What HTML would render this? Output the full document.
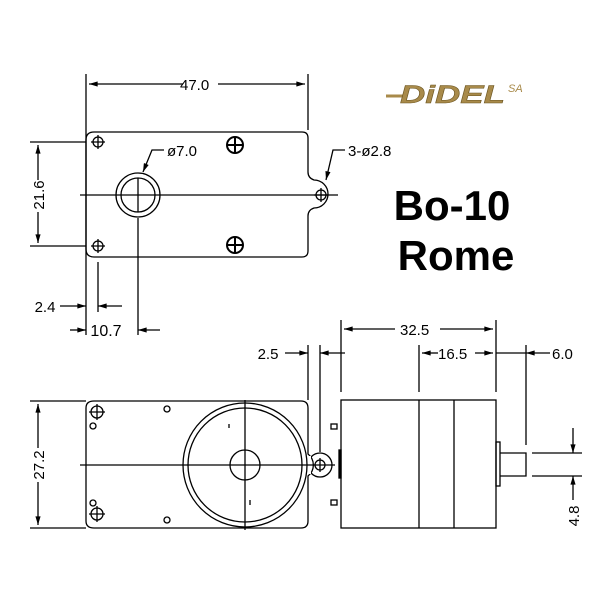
<!DOCTYPE html>
<html><head><style>
body{margin:0;background:#fff}
svg{display:block}
text{font-family:"Liberation Sans",sans-serif}
</style></head><body>
<svg width="610" height="610" viewBox="0 0 610 610" xmlns="http://www.w3.org/2000/svg">
<defs>
<marker id="a" viewBox="0 0 10 6" refX="10" refY="3" markerWidth="10" markerHeight="4" orient="auto-start-reverse"><path d="M0,0L10,3L0,6z" fill="#000"/></marker>
</defs>
<g stroke="#000" stroke-width="1.3" fill="none">
<path d="M94,132H302Q308,132 308,138V172Q308,178 314,180A10,10 0 0 1 314,208Q308,210 308,216V251Q308,257 302,257H94Q86,257 86,249V140Q86,132 94,132Z"/>
<line x1="80" y1="195" x2="338" y2="195"/>
<circle cx="138" cy="195" r="22"/><circle cx="138" cy="195" r="17"/>
<line x1="138" y1="178" x2="138" y2="212"/>
<circle cx="98" cy="142" r="5"/><path d="M98,135V149M91,142H105"/>
<circle cx="98" cy="246" r="5"/><path d="M98,239V253M91,246H105"/>
<circle cx="321" cy="195" r="5"/><path d="M321,188V202M314,195H328"/>
<circle cx="235" cy="145" r="8" stroke-width="2"/><path d="M235,137V153M227,145H243" stroke-width="2"/>
<circle cx="235" cy="245" r="8" stroke-width="2"/><path d="M235,237V253M227,245H243" stroke-width="2"/>
<line x1="86" y1="74" x2="86" y2="335"/><line x1="308" y1="74" x2="308" y2="130"/>
<line x1="89" y1="84" x2="183" y2="84" marker-start="url(#a)"/><line x1="218" y1="84" x2="305" y2="84" marker-end="url(#a)"/>
<line x1="30" y1="142" x2="86" y2="142"/><line x1="30" y1="246" x2="86" y2="246"/>
<line x1="38" y1="145" x2="38" y2="180" marker-start="url(#a)"/><line x1="38" y1="212" x2="38" y2="243" marker-end="url(#a)"/>
<line x1="98" y1="262" x2="98" y2="312"/>
<line x1="60" y1="306" x2="86" y2="306" marker-end="url(#a)"/><line x1="122" y1="306" x2="98" y2="306" marker-end="url(#a)"/>
<line x1="138" y1="218" x2="138" y2="335"/>
<line x1="70" y1="330" x2="86" y2="330" marker-end="url(#a)"/><line x1="160" y1="330" x2="138" y2="330" marker-end="url(#a)"/>
<path d="M164,150H152L143,172" marker-end="url(#a)"/>
<path d="M345,150H333L326,180" marker-end="url(#a)"/>
<path d="M94,401H301Q308,401 308,408V454A14,14 0 0 1 308,476V521Q308,528 301,528H94Q86,528 86,521V408Q86,401 94,401Z"/>
<circle cx="320" cy="465" r="12"/>
<rect x="306" y="456" width="5" height="18" fill="#fff" stroke="none"/>
<line x1="80" y1="465" x2="335" y2="465"/>
<circle cx="245" cy="465" r="62"/><circle cx="245" cy="465" r="57"/>
<circle cx="245" cy="465" r="15"/>
<line x1="245" y1="400" x2="245" y2="530"/>
<circle cx="320" cy="465" r="5"/><path d="M320,458V472"/>
<circle cx="97" cy="412" r="6"/><path d="M97,404V420M89,412H105"/>
<circle cx="97" cy="514" r="6"/><path d="M97,506V522M89,514H105"/>
<circle cx="93" cy="426" r="3"/><circle cx="93" cy="503" r="3"/>
<circle cx="167" cy="409" r="3"/><circle cx="167" cy="520" r="3"/>
<line x1="229" y1="424" x2="229" y2="428"/><line x1="250" y1="500" x2="250" y2="505"/>
<line x1="30" y1="401" x2="86" y2="401"/><line x1="30" y1="528" x2="86" y2="528"/>
<line x1="38" y1="404" x2="38" y2="448" marker-start="url(#a)"/><line x1="38" y1="482" x2="38" y2="525" marker-end="url(#a)"/>
<line x1="308" y1="345" x2="308" y2="400"/><line x1="320" y1="345" x2="320" y2="452"/>
<line x1="285" y1="353" x2="308" y2="353" marker-end="url(#a)"/><line x1="345" y1="353" x2="320" y2="353" marker-end="url(#a)"/>
<rect x="341" y="400" width="155" height="128"/>
<line x1="419" y1="400" x2="419" y2="528"/><line x1="454" y1="400" x2="454" y2="528"/>
<rect x="339" y="450" width="2" height="28" fill="#000"/>
<rect x="331" y="424" width="6" height="5"/><rect x="331" y="500" width="6" height="5"/>
<rect x="496" y="442" width="4" height="44"/>
<path d="M500,453H526V476H500"/>
<line x1="341" y1="320" x2="341" y2="392"/><line x1="496" y1="320" x2="496" y2="392"/>
<line x1="344" y1="329" x2="395" y2="329" marker-start="url(#a)"/><line x1="440" y1="329" x2="493" y2="329" marker-end="url(#a)"/>
<line x1="419" y1="345" x2="419" y2="392"/>
<line x1="422" y1="353" x2="438" y2="353" marker-start="url(#a)"/><line x1="475" y1="353" x2="493" y2="353" marker-end="url(#a)"/>
<line x1="496" y1="353" x2="526" y2="353"/>
<line x1="526" y1="345" x2="526" y2="445"/>
<line x1="550" y1="353" x2="526" y2="353" marker-end="url(#a)"/>
<line x1="532" y1="453" x2="582" y2="453"/><line x1="532" y1="476" x2="582" y2="476"/>
<line x1="573" y1="428" x2="573" y2="453" marker-end="url(#a)"/><line x1="573" y1="500" x2="573" y2="476" marker-end="url(#a)"/>
</g>
<g font-size="15" fill="#000">
<text x="180" y="90">47.0</text>
<text x="167" y="156">ø7.0</text>
<text x="348" y="156">3-ø2.8</text>
<text x="45" y="312" text-anchor="middle">2.4</text>
<text x="106" y="336" text-anchor="middle" font-size="16">10.7</text>
<text x="268" y="359" text-anchor="middle">2.5</text>
<text x="400" y="335">32.5</text>
<text x="438" y="359">16.5</text>
<text x="552" y="359">6.0</text>
<text transform="translate(44,195) rotate(-90)" text-anchor="middle">21.6</text>
<text transform="translate(44,465) rotate(-90)" text-anchor="middle">27.2</text>
<text transform="translate(579,516) rotate(-90)" text-anchor="middle">4.8</text>
</g>
<text x="452" y="220" font-size="42" font-weight="bold" text-anchor="middle">Bo-10</text>
<text x="456" y="270" font-size="42" font-weight="bold" text-anchor="middle">Rome</text>
<line x1="386" y1="96" x2="404" y2="96" stroke="#a88a4a" stroke-width="3"/>
<text x="400" y="103" font-size="25" font-weight="bold" font-style="italic" fill="#a88a4a" stroke="#6a5420" stroke-width="0.5" textLength="105" lengthAdjust="spacingAndGlyphs">DiDEL</text>
<text x="508" y="92" font-size="11" font-style="italic" fill="#a88a4a">SA</text>
</svg>
</body></html>
